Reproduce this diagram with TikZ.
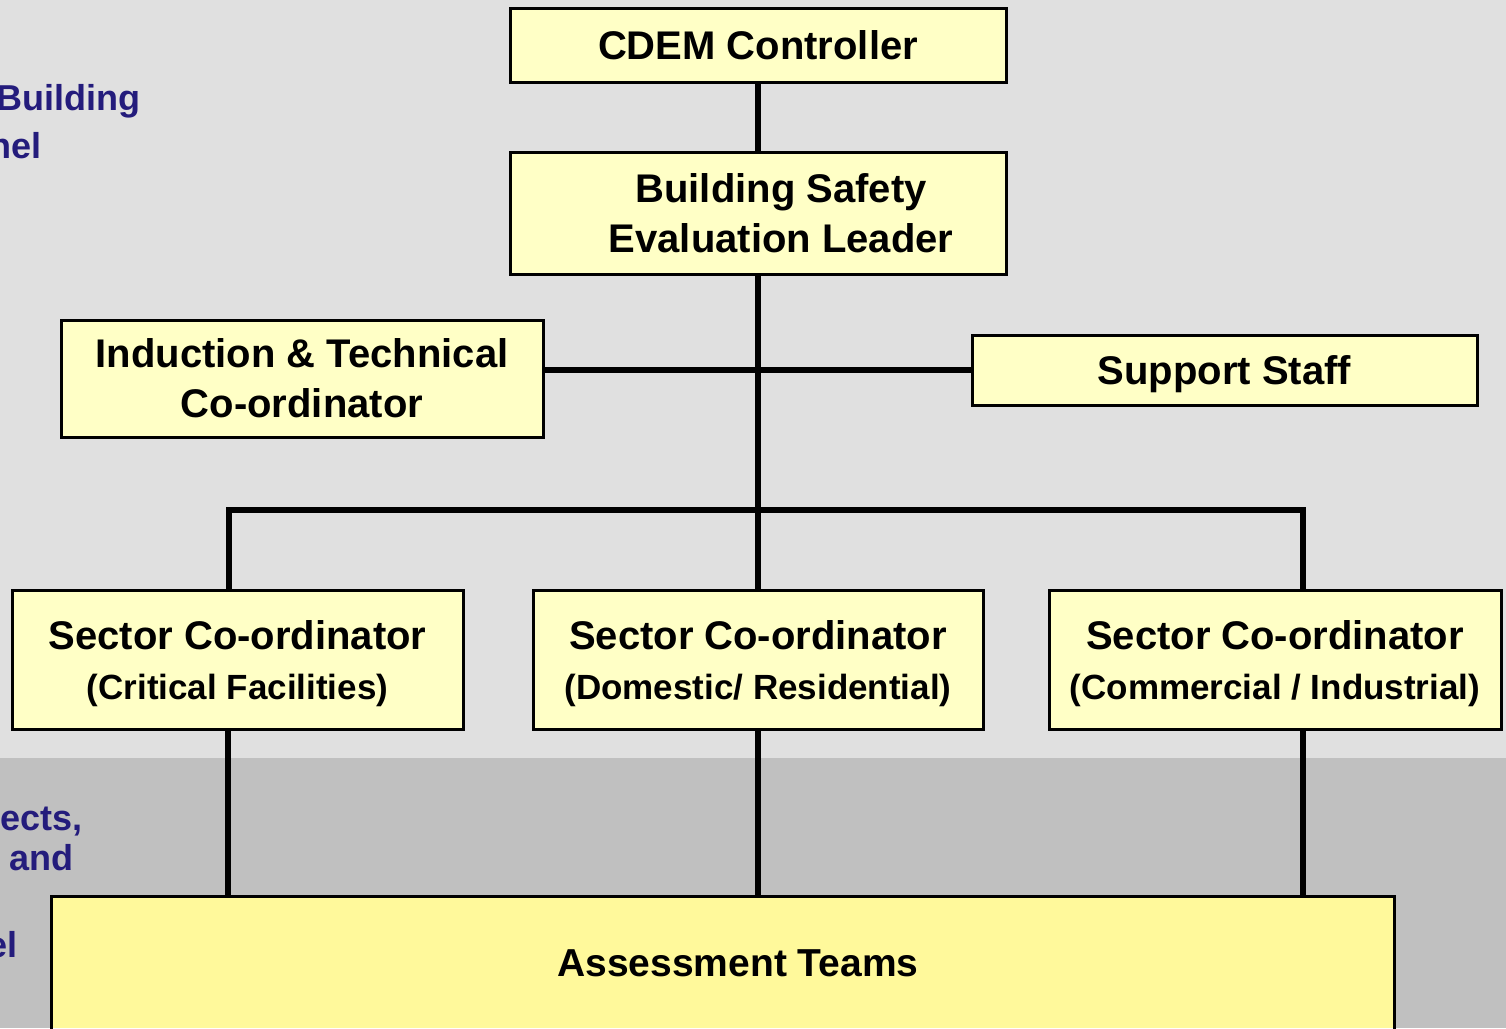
\documentclass[tikz,border=0pt]{standalone}
\usepackage{fontspec}
\setmainfont{Liberation Sans}
\definecolor{paleback}{HTML}{E0E0E0}
\definecolor{darkback}{HTML}{C0C0C0}
\definecolor{roleyellow}{HTML}{FFFFC6}
\definecolor{teamyellow}{HTML}{FFF99B}
\definecolor{sidenavy}{HTML}{241C7C}

\begin{document}
\begin{tikzpicture}[x=1pt, y=-1pt,
    role/.style={draw=black, line width=3pt, fill=roleyellow, align=center, inner sep=0pt,
      text depth=0pt, font=\fontsize{40}{50}\selectfont\bfseries},
    link/.style={line width=6pt},
    sidetext/.style={anchor=base east, inner sep=0pt, text=sidenavy,
      font=\fontsize{36}{43}\selectfont\bfseries}]
\useasboundingbox (0,0) rectangle (1506,1028);
\fill[paleback] (0,0) rectangle (1506,758);
\fill[darkback] (0,758) rectangle (1506,1028);
% captions cut off at the left edge
\node[sidetext] (capA) at (141,110) {Building};
\node[sidetext] (capB) at (42,158) {nel};
\node[sidetext] (capC) at (83,830) {ects,};
\node[sidetext] (capD) at (74,870) {and};
\node[sidetext] (capE) at (18,957) {el};
% boxes
\node[role, minimum width=496pt, minimum height=74pt] (ctrl) at (758,45) {CDEM Controller};
\node[role, minimum width=496pt, minimum height=122pt] (leader) at (758,213)
  {\hspace*{46pt}Building Safety\\\hspace*{46pt}Evaluation Leader};
\node[role, minimum width=482pt, minimum height=117pt] (induct) at (302,378.5)
  {Induction \& Technical\\Co-ordinator};
\node[role, minimum width=505pt, minimum height=70pt] (support) at (1224.5,370) {Support Staff};
\node[role, minimum width=451pt, minimum height=139pt] (secA) at (237.5,659.5)
  {Sector Co-ordinator\\{\fontsize{35}{42}\selectfont(Critical Facilities)}};
\node[role, minimum width=450pt, minimum height=139pt] (secB) at (758,659.5)
  {Sector Co-ordinator\\{\fontsize{35}{42}\selectfont(Domestic/ Residential)}};
\node[role, minimum width=452pt, minimum height=139pt] (secC) at (1275,659.5)
  {Sector Co-ordinator\\{\fontsize{35}{42}\selectfont(Commercial / Industrial)}};
\node[role, draw=none, fill=teamyellow, minimum width=1340pt, minimum height=130pt,
  font=\fontsize{39}{47}\selectfont\bfseries] (teams) at (723,963) {\hspace*{30pt}Assessment Teams};
\draw[line width=3pt] (teams.south west) -- (teams.north west) -- (teams.north east) -- (teams.south east);
% connectors
\coordinate (bus) at (758,510);
\draw[link] (ctrl) -- (leader);
\draw[link] (leader) -- (secB);
\draw[link] (induct.east |- support.west) -- (support.west);
\draw[link] ([xshift=-9pt]secA.north) |- (bus) -| ([xshift=28pt]secC.north);
\foreach \s/\d in {secA/-10, secB/0, secC/28}
    \draw[link] ([xshift=\d pt]\s.south) coordinate (top) -- (top |- teams.north);
\end{tikzpicture}
\end{document}
